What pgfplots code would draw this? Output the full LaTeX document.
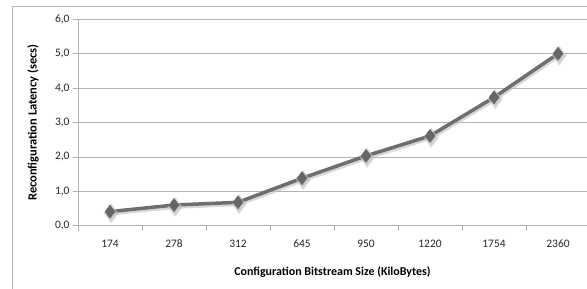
\documentclass[border=0pt]{standalone}
\usepackage{pgfplots}
\pgfplotsset{compat=1.18}
\usepackage{fontspec}
\setmainfont{Carlito}
\definecolor{gridc}{HTML}{B3B3B3}
\definecolor{linec}{HTML}{6E6E6E}
\definecolor{markc}{HTML}{666666}
\begin{document}
\begin{tikzpicture}
\fill[white] (0,0) rectangle (587bp,289bp);
\draw[gridc, line width=0.8bp] (12bp,-5bp) -- (12bp,283bp) -- (600bp,283bp);
\begin{axis}[
  at={(78bp,63.3bp)}, anchor=south west,
  scale only axis, width=512bp, height=206.4bp,
  xmin=-0.5, xmax=7.5, ymin=0, ymax=6,
  axis lines=left, axis line style={gridc, line width=0.8bp, -},
  xtick={0,...,7},
  xticklabels={174,278,312,645,950,1220,1754,2360},
  minor xtick={-0.5,0.5,...,7.5},
  major x tick style={draw=none},
  minor x tick style={gridc, line width=0.8bp},
  minor tick length=5bp,
  ytick={0,1,...,6},
  ytick style={gridc, line width=0.8bp},
  major tick length=5bp,
  tick align=outside,
  ymajorgrids, grid style={gridc, line width=0.8bp},
  yticklabel={\pgfmathprintnumber[fixed, fixed zerofill, precision=1, use comma]{\tick}},
  /pgf/number format/assume math mode=true,
  ticklabel style={font=\fontsize{11.5}{13}\selectfont, text=black!85},
  xticklabel style={anchor=base, yshift=-17bp},
  yticklabel style={anchor=east, xshift=0bp},
  xlabel={Configuration Bitstream Size (KiloBytes)},
  ylabel={Reconfiguration Latency (secs)},
  every axis x label/.style={at={(axis description cs:0.497,-0.223)}, anchor=center, font=\fontsize{12}{14}\selectfont\bfseries},
  every axis y label/.style={at={(axis description cs:-0.0879,0.5)}, rotate=90, anchor=center, font=\fontsize{12.5}{14}\selectfont\bfseries},
  clip=false,
]
\addplot[black!25, opacity=0.6, line width=4bp, xshift=1.2bp, yshift=-1.8bp,
  mark=diamond*, mark size=6.5bp, mark options={draw=none, fill=black!25}]
  coordinates {(0,0.41) (1,0.60) (2,0.68) (3,1.38) (4,2.03) (5,2.61) (6,3.73) (7,5.0)};
\addplot[linec, line width=3.5bp, mark=diamond*, mark size=6.5bp,
  mark options={draw=markc, fill=markc, line width=0.5bp}]
  coordinates {(0,0.41) (1,0.60) (2,0.68) (3,1.38) (4,2.03) (5,2.61) (6,3.73) (7,5.0)};
\end{axis}
\pgfresetboundingbox
\useasboundingbox (0,0) rectangle (587bp,289bp);
\end{tikzpicture}
\end{document}
